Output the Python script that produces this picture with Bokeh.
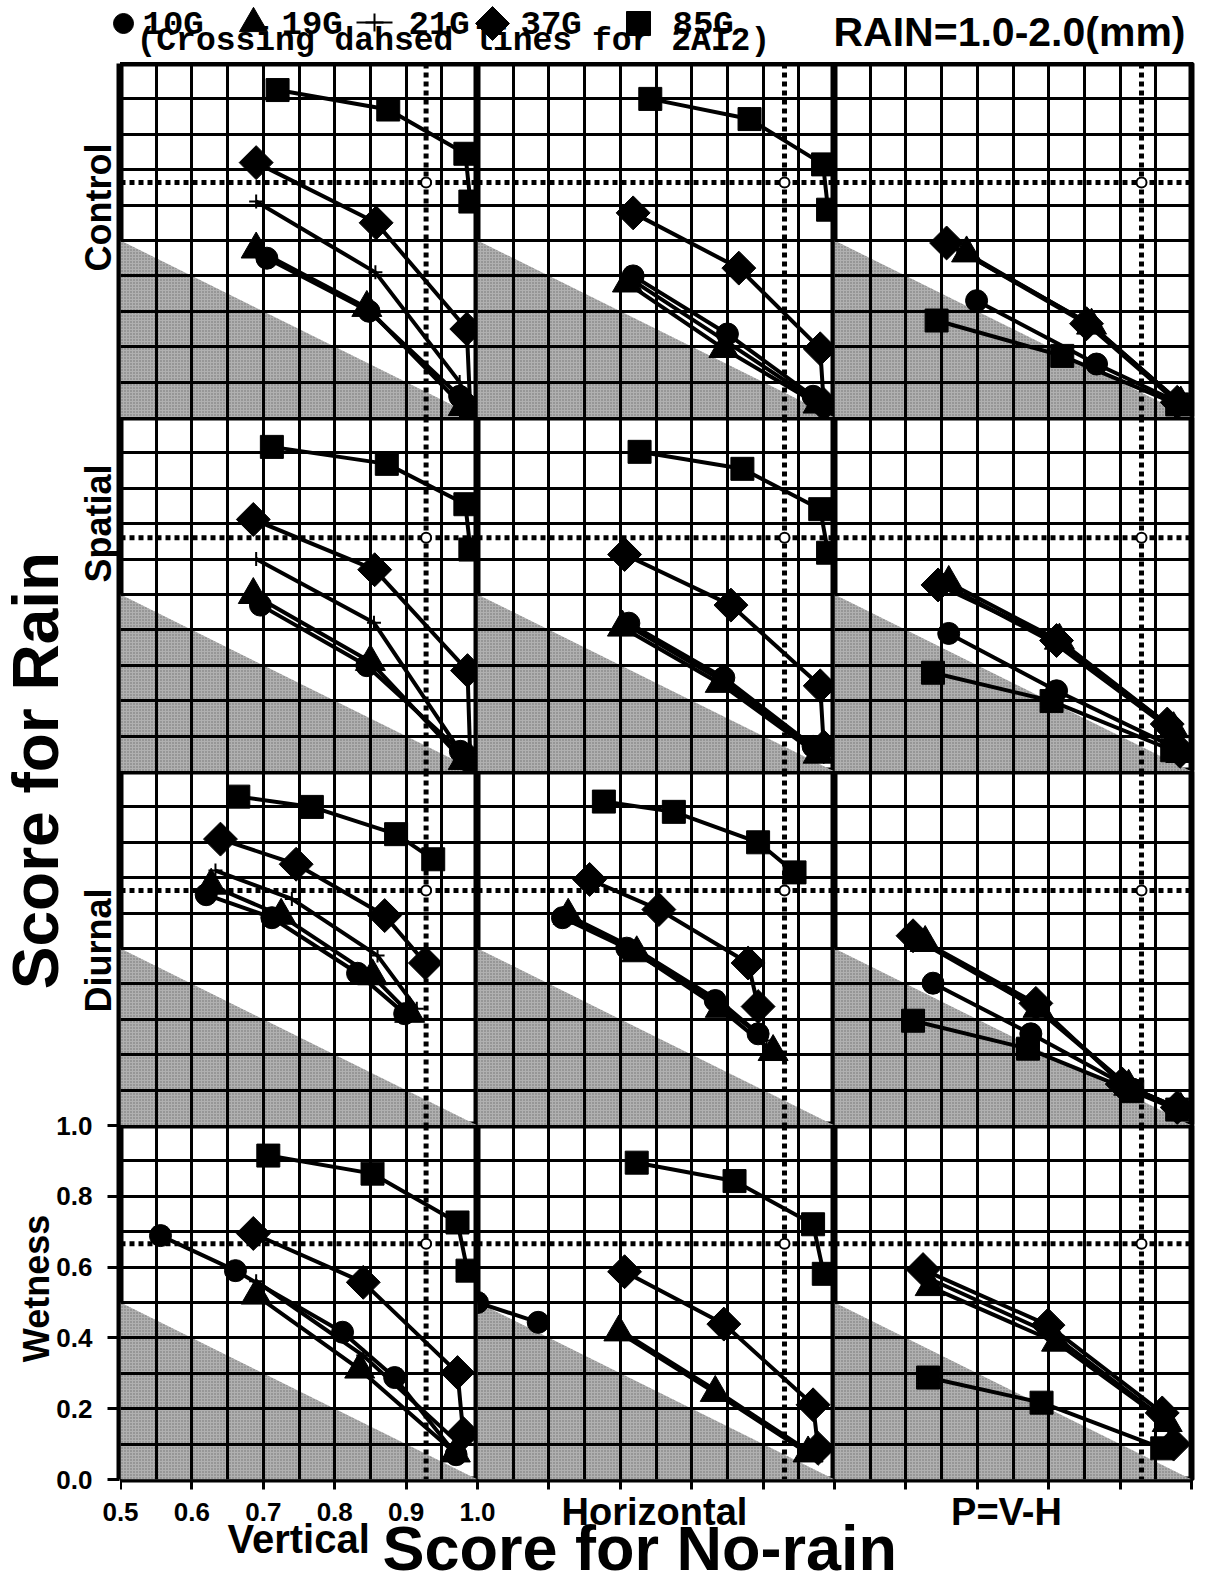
import math
from bokeh.plotting import figure
from bokeh.layouts import column, row
from bokeh.models import Range1d, FixedTicker, Grid, Span, Label, NumeralTickFormatter, LinearAxis
from bokeh.embed import file_html
from bokeh.resources import INLINE

# ---------------- data ----------------
ROWS = ["Control", "Spatial", "Diurnal", "Wetness"]
COLS = ["Vertical", "Horizontal", "P=V-H"]

X_TICKS = [0.5, 0.6, 0.7, 0.8, 0.9, 1.0]
Y_TICKS = [0.0, 0.2, 0.4, 0.6, 0.8, 1.0]
GRID_X = [0.55, 0.60, 0.65, 0.70, 0.75, 0.80, 0.85, 0.90, 0.95]
GRID_Y = [0.1, 0.2, 0.3, 0.4, 0.5, 0.6, 0.7, 0.8, 0.9]

# shaded (no-skill) triangle
SHADE_X = [0.5, 0.5, 1.0]
SHADE_Y = [0.0, 0.5, 0.0]

# 2AI2 crossing dashed lines
NORAIN_2AI2 = [0.928, 0.930, 0.930]          # per column
RAIN_2AI2 = [0.664, 0.660, 0.664, 0.666]      # per row

G10 = {
    ("Control", "Vertical"): ([0.705, 0.848, 0.975, 0.99], [0.45, 0.30, 0.06, 0.01]),
    ("Control", "Horizontal"): ([0.718, 0.85, 0.97], [0.40, 0.236, 0.06]),
    ("Control", "P=V-H"): ([0.699, 0.867, 0.987], [0.33, 0.151, 0.037]),
    ("Spatial", "Vertical"): ([0.696, 0.845, 0.976], [0.47, 0.299, 0.057]),
    ("Spatial", "Horizontal"): ([0.712, 0.845, 0.97], [0.419, 0.265, 0.071]),
    ("Spatial", "P=V-H"): ([0.66, 0.811, 0.973], [0.39, 0.228, 0.071]),
    ("Diurnal", "Vertical"): ([0.62, 0.712, 0.832, 0.898], [0.652, 0.587, 0.43, 0.316]),
    ("Diurnal", "Horizontal"): ([0.619, 0.709, 0.833, 0.893], [0.587, 0.501, 0.353, 0.259]),
    ("Diurnal", "P=V-H"): ([0.638, 0.775, 0.917, 0.985], [0.402, 0.259, 0.103, 0.045]),
    ("Wetness", "Vertical"): ([0.556, 0.661, 0.811, 0.884, 0.97], [0.689, 0.59, 0.416, 0.288, 0.07]),
    ("Wetness", "Horizontal"): ([0.50, 0.585], [0.50, 0.444]),
    ("Wetness", "P=V-H"): ([], []),
}
G19 = {
    ("Control", "Vertical"): ([0.69, 0.845, 0.98], [0.475, 0.31, 0.03]),
    ("Control", "Horizontal"): ([0.71, 0.845, 0.977], [0.379, 0.194, 0.037]),
    ("Control", "P=V-H"): ([0.685, 0.86, 0.985], [0.464, 0.26, 0.04]),
    ("Spatial", "Vertical"): ([0.686, 0.85, 0.98], [0.499, 0.31, 0.03]),
    ("Spatial", "Horizontal"): ([0.703, 0.84, 0.977], [0.407, 0.248, 0.048]),
    ("Spatial", "P=V-H"): ([0.66, 0.815, 0.975, 0.985], [0.533, 0.37, 0.12, 0.05]),
    ("Diurnal", "Vertical"): ([0.627, 0.725, 0.853, 0.905], [0.678, 0.593, 0.422, 0.316]),
    ("Diurnal", "Horizontal"): ([0.627, 0.723, 0.84, 0.914], [0.593, 0.487, 0.33, 0.208]),
    ("Diurnal", "P=V-H"): ([0.627, 0.785, 0.912, 0.985], [0.516, 0.33, 0.11, 0.045]),
    ("Wetness", "Vertical"): ([0.69, 0.835, 0.969], [0.52, 0.311, 0.074]),
    ("Wetness", "Horizontal"): ([0.698, 0.833, 0.963], [0.416, 0.245, 0.074]),
    ("Wetness", "P=V-H"): ([0.634, 0.811, 0.966], [0.544, 0.387, 0.16]),
}
G21 = {
    ("Control", "Vertical"): ([0.69, 0.857, 0.975, 0.99], [0.61, 0.41, 0.10, 0.02]),
    ("Control", "Horizontal"): ([0.715, 0.848, 0.975], [0.39, 0.215, 0.045]),
    ("Control", "P=V-H"): ([0.672, 0.855, 0.985], [0.475, 0.268, 0.04]),
    ("Spatial", "Vertical"): ([0.69, 0.855, 0.975], [0.60, 0.42, 0.06]),
    ("Spatial", "Horizontal"): ([0.708, 0.843, 0.975], [0.415, 0.256, 0.06]),
    ("Spatial", "P=V-H"): ([0.652, 0.81, 0.97, 0.985], [0.53, 0.36, 0.12, 0.05]),
    ("Diurnal", "Vertical"): ([0.633, 0.74, 0.86, 0.915], [0.72, 0.64, 0.48, 0.33]),
    ("Diurnal", "Horizontal"): ([0.62, 0.72, 0.84, 0.905], [0.60, 0.50, 0.35, 0.24]),
    ("Diurnal", "P=V-H"): ([0.62, 0.78, 0.91, 0.985], [0.52, 0.335, 0.113, 0.045]),
    ("Wetness", "Vertical"): ([0.69, 0.84, 0.975], [0.56, 0.35, 0.10]),
    ("Wetness", "Horizontal"): ([0.70, 0.835, 0.965], [0.42, 0.25, 0.078]),
    ("Wetness", "P=V-H"): ([0.63, 0.805, 0.962], [0.57, 0.41, 0.17]),
}
G37 = {
    ("Control", "Vertical"): ([0.69, 0.858, 0.985, 0.99], [0.72, 0.55, 0.25, 0.02]),
    ("Control", "Horizontal"): ([0.718, 0.866, 0.98, 0.985], [0.578, 0.422, 0.194, 0.037]),
    ("Control", "P=V-H"): ([0.657, 0.853, 0.98], [0.493, 0.265, 0.043]),
    ("Spatial", "Vertical"): ([0.686, 0.856, 0.986, 0.99], [0.712, 0.57, 0.285, 0.03]),
    ("Spatial", "Horizontal"): ([0.706, 0.855, 0.98, 0.985], [0.613, 0.47, 0.242, 0.07]),
    ("Spatial", "P=V-H"): ([0.645, 0.811, 0.966, 0.984], [0.527, 0.37, 0.134, 0.057]),
    ("Diurnal", "Vertical"): ([0.64, 0.746, 0.87, 0.927], [0.809, 0.738, 0.593, 0.459]),
    ("Diurnal", "Horizontal"): ([0.657, 0.754, 0.879, 0.893], [0.695, 0.61, 0.459, 0.336]),
    ("Diurnal", "P=V-H"): ([0.61, 0.782, 0.903, 0.98], [0.536, 0.345, 0.117, 0.051]),
    ("Wetness", "Vertical"): ([0.686, 0.84, 0.972, 0.98], [0.695, 0.557, 0.302, 0.13]),
    ("Wetness", "Horizontal"): ([0.706, 0.845, 0.97, 0.977], [0.587, 0.439, 0.211, 0.088]),
    ("Wetness", "P=V-H"): ([0.624, 0.799, 0.959, 0.975], [0.593, 0.436, 0.188, 0.10]),
}
G85 = {
    ("Control", "Vertical"): ([0.72, 0.875, 0.983, 0.99], [0.925, 0.87, 0.745, 0.61]),
    ("Control", "Horizontal"): ([0.742, 0.881, 0.984, 0.991], [0.90, 0.843, 0.715, 0.587]),
    ("Control", "P=V-H"): ([0.643, 0.819, 0.98], [0.274, 0.174, 0.037]),
    ("Spatial", "Vertical"): ([0.712, 0.873, 0.983, 0.99], [0.917, 0.869, 0.755, 0.627]),
    ("Spatial", "Horizontal"): ([0.727, 0.871, 0.98, 0.991], [0.903, 0.855, 0.741, 0.618]),
    ("Spatial", "P=V-H"): ([0.638, 0.804, 0.973], [0.279, 0.199, 0.06]),
    ("Diurnal", "Vertical"): ([0.665, 0.768, 0.886, 0.938], [0.929, 0.90, 0.823, 0.752]),
    ("Diurnal", "Horizontal"): ([0.677, 0.775, 0.893, 0.944], [0.915, 0.886, 0.80, 0.715]),
    ("Diurnal", "P=V-H"): ([0.61, 0.771, 0.917, 0.98], [0.296, 0.217, 0.097, 0.045]),
    ("Wetness", "Vertical"): ([0.707, 0.853, 0.972, 0.986], [0.915, 0.864, 0.726, 0.59]),
    ("Wetness", "Horizontal"): ([0.723, 0.86, 0.97, 0.985], [0.895, 0.843, 0.721, 0.581]),
    ("Wetness", "P=V-H"): ([0.631, 0.79, 0.959], [0.288, 0.217, 0.088]),
}

# ---------------- layout constants (pixels) ----------------
PW, PH = 357, 354          # panel frame size
STRIP_W = 120              # left label strip
TOP_H = 62                 # legend strip
TOP_B = 1                  # border above first panel row
BOT_B = 16                 # border below last panel row (tick marks)
PAGE_H = 1580
FULL_W = STRIP_W + 3 * PW + 8
MID_H = 4 * PH + TOP_B + BOT_B
BOT_Y0 = TOP_H + MID_H
BOT_H = PAGE_H - BOT_Y0
SANS = "Liberation Sans"
MONO = "Liberation Mono"


def blank(fig):
    fig.background_fill_color = "white"
    fig.border_fill_color = "white"
    fig.outline_line_color = None
    fig.grid.visible = False


def label(fig, x, y, text, size, font=SANS, align="left", angle=0.0, k=0.22):
    # x, y: wanted baseline position (page pixels); small shifts compensate text metrics
    px = int(size.replace("px", ""))
    if angle:
        x = x - 0.4 * px
    else:
        y = y - k * px
    fig.add_layout(Label(x=x, y=y, text=text, angle=angle, text_align=align,
                         text_baseline="alphabetic", text_font=font, text_font_size=size,
                         text_font_style="bold", text_color="black"))


# ---------------- series styles ----------------
SERIES = [
    (G21, "cross", 14, 0),
    (G19, "triangle", 30, 0),
    (G10, "circle", 22, 0),
    (G37, "square", 24, math.pi / 4),
    (G85, "square", 23, 0),
]

panels = []
for r, rname in enumerate(ROWS):
    prow = []
    last = r == len(ROWS) - 1
    for c, cname in enumerate(COLS):
        w = PW + (8 if c == 2 else 0)
        h = PH + (TOP_B if r == 0 else 0) + (BOT_B if last else 0)
        p = figure(width=w, height=h, x_range=Range1d(0.5, 1.0), y_range=Range1d(0.0, 1.0),
                   x_axis_location="below" if last else None, y_axis_location=None,
                   toolbar_location=None, output_backend="svg", title=None, min_border=0)
        p.min_border_top = TOP_B if r == 0 else 0
        p.min_border_bottom = BOT_B if last else 0
        p.min_border_right = 8 if c == 2 else 0
        p.background_fill_color = "white"
        p.border_fill_color = "white"
        p.outline_line_color = "black"
        p.outline_line_width = 6
        p.grid.visible = False
        if last:
            # tick marks only; the tick labels are drawn by the bottom strip's axis
            xa = p.xaxis[0]
            xa.ticker = FixedTicker(ticks=X_TICKS)
            xa.axis_line_color = None
            xa.major_tick_out = 10
            xa.major_tick_in = 0
            xa.major_tick_line_width = 3
            xa.minor_tick_line_color = None
            xa.major_label_text_font_size = "1px"
            xa.major_label_text_color = None
            xa.major_label_standoff = 0
        p.patch(SHADE_X, SHADE_Y, fill_color="#b0b0b0", line_color=None, level="image",
                hatch_pattern="dot", hatch_color="#6e6e6e", hatch_scale=3, hatch_weight=1)
        p.add_layout(Grid(dimension=0, ticker=FixedTicker(ticks=GRID_X),
                          grid_line_color="black", grid_line_width=3))
        p.add_layout(Grid(dimension=1, ticker=FixedTicker(ticks=GRID_Y),
                          grid_line_color="black", grid_line_width=3))
        p.add_layout(Span(location=RAIN_2AI2[r], dimension="width", line_color="black",
                          line_width=5, line_dash="5 4", level="underlay"))
        p.add_layout(Span(location=NORAIN_2AI2[c], dimension="height", line_color="black",
                          line_width=5, line_dash="5 4", level="underlay"))
        p.scatter([NORAIN_2AI2[c]], [RAIN_2AI2[r]], marker="circle", size=10,
                  fill_color="white", line_color="black", line_width=2)
        for data, marker, size, ang in SERIES:
            xs, ys = data[(rname, cname)]
            if not xs:
                continue
            p.line(xs, ys, line_color="black", line_width=4)
            if marker == "cross":
                p.scatter(xs, ys, marker=marker, size=size, line_color="black", line_width=2)
            else:
                p.scatter(xs, ys, marker=marker, size=size, angle=ang,
                          fill_color="black", line_color="black")
        prow.append(p)
    panels.append(prow)

# ---------------- left strip: y axis + labels ----------------
strip = figure(width=STRIP_W, height=MID_H, x_range=Range1d(0, STRIP_W),
               y_range=Range1d(TOP_H + MID_H, TOP_H),
               x_axis_location=None, y_axis_location=None, toolbar_location=None,
               output_backend="svg", title=None, min_border=0)
blank(strip)
strip.extra_y_ranges = {"score": Range1d(-BOT_B / PH, (MID_H - BOT_B) / PH)}
ax = LinearAxis(y_range_name="score", fixed_location=STRIP_W - 1,
                ticker=FixedTicker(ticks=Y_TICKS),
                formatter=NumeralTickFormatter(format="0.0"), bounds=(0.0, 4.0))
ax.axis_line_width = 6
ax.axis_line_color = "black"
ax.major_tick_out = 12
ax.major_tick_in = 0
ax.major_tick_line_width = 3
ax.minor_tick_line_color = None
ax.major_label_standoff = 15
ax.major_label_text_font = SANS
ax.major_label_text_font_size = "26px"
ax.major_label_text_font_style = "bold"
ax.major_label_text_color = "black"
strip.add_layout(ax, "left")

label(strip, 61, 770, "Score for Rain", "64px", align="center", angle=math.pi / 2)
for name, lx, ly in [("Control", 112, 207), ("Spatial", 112, 523),
                     ("Diurnal", 112, 950), ("Wetness", 50, 1288)]:
    label(strip, lx, ly, name, "36px", align="center", angle=math.pi / 2)

# ---------------- bottom strip: x tick labels + titles ----------------
bot = figure(width=FULL_W, height=BOT_H, x_range=Range1d(0, FULL_W),
             y_range=Range1d(PAGE_H, BOT_Y0),
             x_axis_location=None, y_axis_location=None, toolbar_location=None,
             output_backend="svg", title=None, min_border=0)
blank(bot)
bot.extra_x_ranges = {"vert": Range1d(0.5 - STRIP_W * 0.5 / PW, 0.5 + (FULL_W - STRIP_W) * 0.5 / PW)}
bx = LinearAxis(x_range_name="vert", fixed_location=BOT_Y0, ticker=FixedTicker(ticks=X_TICKS),
                formatter=NumeralTickFormatter(format="0.0"), bounds=(0.5, 1.0))
bx.axis_line_color = None
bx.major_tick_line_color = None
bx.major_tick_out = 0
bx.major_tick_in = 0
bx.minor_tick_line_color = None
bx.major_label_standoff = 7
bx.major_label_text_font = SANS
bx.major_label_text_font_size = "26px"
bx.major_label_text_font_style = "bold"
bx.major_label_text_color = "black"
bot.add_layout(bx, "below")

label(bot, 227, 1553, "Vertical", "40px", k=0.37)
label(bot, 654, 1526, "Horizontal", "38px", align="center", k=0.39)
label(bot, 1006, 1526, "P=V-H", "38px", align="center", k=0.39)
label(bot, 382, 1575, "Score for No-rain", "63px", k=0.44)

# ---------------- top strip: legend ----------------
top = figure(width=FULL_W, height=TOP_H, x_range=Range1d(0, FULL_W), y_range=Range1d(TOP_H, 0),
             x_axis_location=None, y_axis_location=None, toolbar_location=None,
             output_backend="svg", title=None, min_border=0)
blank(top)
LEG_MARK_X = [123, 253, 492, 638]
LEG_MARKS = [("circle", 20, 0), ("triangle", 28, 0), ("square", 24, math.pi / 4), ("square", 24, 0)]
for mx, (mk, ms, ang) in zip(LEG_MARK_X, LEG_MARKS):
    top.scatter([mx], [23], marker=mk, size=ms, angle=ang, fill_color="black", line_color="black")
top.line([356, 392], [22, 22], line_color="black", line_width=2)
top.scatter([374], [22], marker="cross", size=18, line_color="black", line_width=2)
for txt, lx in [("10G", 142), ("19G", 281), ("21G", 408), ("37G", 520), ("85G", 672)]:
    label(top, lx, 32, txt, "34px", font=MONO)
label(top, 136, 48, "(Crossing dahsed lines for 2AI2)", "33px", font=MONO)
label(top, 833, 41, "RAIN=1.0-2.0(mm)", "41px")

grid_col = column(*[row(*prow) for prow in panels])
layout = column(top, row(strip, grid_col), bot)

open("out.html", "w").write(file_html(layout, INLINE, title="Score for Rain vs No-rain"))
